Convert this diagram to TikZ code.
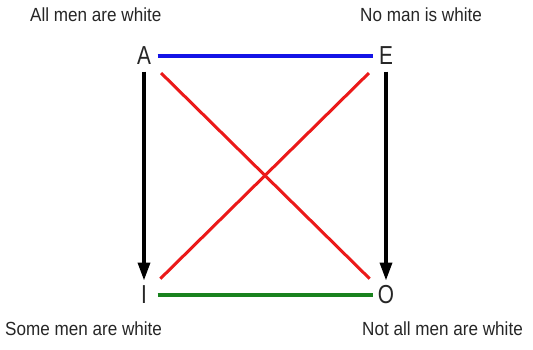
\documentclass[tikz,border=0pt]{standalone}
\usepackage{fontspec}
\setmainfont{Liberation Sans}
\newfontfamily\labfont[FakeStretch=0.9]{Liberation Sans}
\newfontfamily\letfont[FakeStretch=0.8]{Liberation Sans}
\usetikzlibrary{arrows.meta}
\definecolor{myblue}{RGB}{20,20,230}
\definecolor{myred}{RGB}{235,25,25}
\definecolor{mygreen}{RGB}{25,130,30}
\tikzset{
  letter/.style={inner sep=0pt, outer sep=0pt, minimum width=27pt, minimum height=27pt,
    font=\letfont\fontsize{26}{26}\selectfont, text=black!85},
  caption/.style={inner sep=0pt, anchor=west, font=\labfont\fontsize{19}{19}\selectfont, text=black!85},
  implies/.style={line width=3.5pt, -{Triangle[length=18pt,width=12pt]}, shorten <=2pt, shorten >=1pt},
  bar/.style={line width=4pt},
  diag/.style={line width=3pt, myred, shorten <=5pt, shorten >=4pt}
}
\begin{document}
\begin{tikzpicture}[x=1pt,y=-1pt]
\useasboundingbox[fill=white] (0,0) rectangle (533,349);
\node[letter] (A) at (144,56) {A};
\node[letter] (E) at (386,56) {E};
\node[letter] (I) at (144,295) {I};
\node[letter] (O) at (386,295) {O};
\node[caption] (ca) at (30,15) {All men are white};
\node[caption] (ce) at (360,15) {No man is white};
\node[caption] (ci) at (5,329) {Some men are white};
\node[caption] (co) at (362,329) {Not all men are white};
\draw[bar, myblue] (A.east) -- (E.west);
\draw[bar, mygreen] (I.east) -- (O.west);
\draw[diag] (A.south east) -- (O.north west);
\draw[diag] (E.south west) -- (I.north east);
\draw[implies] (A.south) -- (I.north);
\draw[implies] (E.south) -- (O.north);
\end{tikzpicture}
\end{document}
